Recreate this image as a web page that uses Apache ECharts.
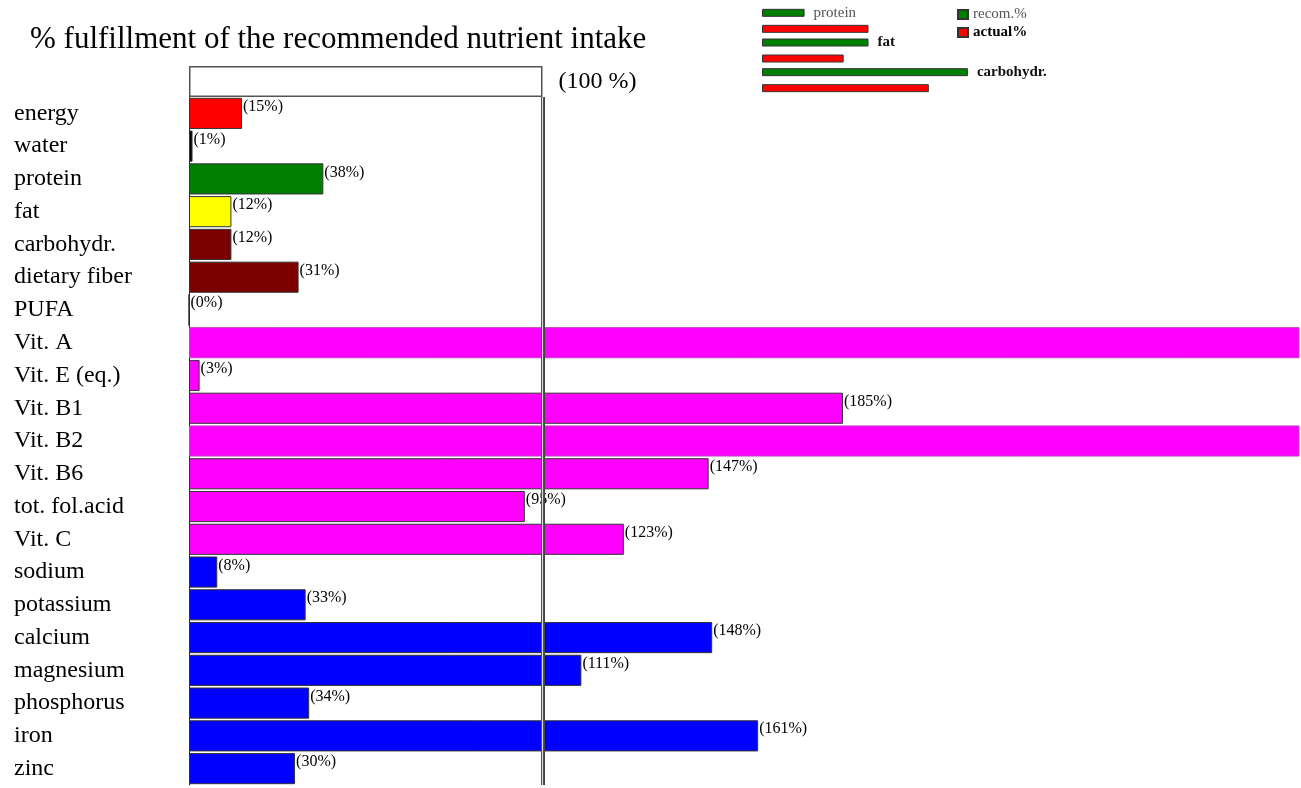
<!DOCTYPE html>
<html>
<head>
<meta charset="utf-8">
<title>% fulfillment of the recommended nutrient intake</title>
<script src="https://cdn.jsdelivr.net/npm/echarts@6/dist/echarts.min.js"></script>
<style>
  html, body { margin: 0; padding: 0; background: #fff; }
  #chart { width: 1301px; height: 788px; }
</style>
</head>
<body>
<div id="chart"></div>
<script>
// nutrients, top to bottom
const nutrients = ['energy', 'water', 'protein', 'fat', 'carbohydr.', 'dietary fiber', 'PUFA',
  'Vit. A', 'Vit. E (eq.)', 'Vit. B1', 'Vit. B2', 'Vit. B6', 'tot. fol.acid', 'Vit. C',
  'sodium', 'potassium', 'calcium', 'magnesium', 'phosphorus', 'iron', 'zinc'];
// % of the recommended intake (Vit. A and Vit. B2 run off the right edge, no label shown)
const fulfillment = [15, 1, 38, 12, 12, 31, 0,
  340, 3, 185, 330, 147, 95, 123,
  8, 33, 148, 111, 34, 161, 30];
// group of each nutrient, picks the bar colour
const nutrientGroup = ['energy', 'water', 'protein', 'fat', 'carb', 'carb', 'pufa',
  'vit', 'vit', 'vit', 'vit', 'vit', 'vit', 'vit',
  'min', 'min', 'min', 'min', 'min', 'min', 'min'];

// small chart top right: energy share of the macronutrients
const macroNames = ['protein', 'fat', 'carbohydr.'];
const recomShare = [12, 30, 58];
const actualShare = [30, 23, 47];

const reference = [100];

const X_MAX = 314;
const SERIF = "'Liberation Serif', 'DejaVu Serif', serif";
const groupColor = {
  energy: '#ff0000', water: '#000000', protein: '#008000', fat: '#ffff00',
  carb: '#7b0000', pufa: '#ffffff', vit: '#ff00ff', min: '#0000ff'
};

const chart = echarts.init(document.getElementById('chart'));

const mainData = fulfillment.map(function (v, i) {
  const item = {
    value: v,
    itemStyle: { color: groupColor[nutrientGroup[i]] }
  };
  if (v > X_MAX) {
    item.label = { show: false };
    item.itemStyle.borderColor = '#c040c0';
  }
  return item;
});

// first label is lighter in the original
const macroData = recomShare.map(function (v, i) {
  return i === 0
    ? { value: v, label: { color: '#555', fontWeight: 'normal' } }
    : { value: v };
});

const option = {
  animation: false,
  title: {
    text: '% fulfillment of the recommended nutrient intake',
    left: 25, top: 19,
    textStyle: { fontFamily: SERIF, fontSize: 31, fontWeight: 'normal', color: '#000' }
  },
  legend: {
    data: [
      { name: 'recom.%', textStyle: { color: '#555' } },
      { name: 'actual%', textStyle: { color: '#000', fontWeight: 'bold' } }
    ],
    orient: 'vertical',
    left: 952, top: 2,
    itemWidth: 10, itemHeight: 9, itemGap: 3,
    icon: 'rect',
    selectedMode: false,
    textStyle: { fontFamily: SERIF, fontSize: 15, color: '#222' }
  },
  grid: [
    { left: 189, right: 2, top: 97, bottom: 3 },
    { left: 189, right: 2, top: 66, height: 31 },
    { left: 762, width: 355, top: 6, height: 89 }
  ],
  xAxis: [
    { gridIndex: 0, type: 'value', min: 0, max: X_MAX, show: false },
    { gridIndex: 1, type: 'value', min: 0, max: X_MAX, show: false },
    { gridIndex: 2, type: 'value', min: 0, max: 100, show: false }
  ],
  yAxis: [
    {
      gridIndex: 0, type: 'category', data: nutrients, inverse: true,
      axisLine: { show: true, lineStyle: { color: '#222', width: 1 } },
      axisTick: { show: false },
      axisLabel: { margin: 175, align: 'left', fontFamily: SERIF, fontSize: 24, color: '#000' }
    },
    { gridIndex: 1, type: 'category', data: ['100 %'], show: false },
    { gridIndex: 2, type: 'category', data: macroNames, inverse: true, show: false }
  ],
  series: [
    {
      type: 'bar',
      xAxisIndex: 0, yAxisIndex: 0,
      data: mainData,
      barCategoryGap: '5%',
      itemStyle: { borderColor: '#333', borderWidth: 1 },
      label: {
        show: true,
        position: ['100%', 0],
        align: 'left', verticalAlign: 'top',
        offset: [1, 1],
        formatter: '({c}%)',
        fontFamily: SERIF, fontSize: 16, color: '#000'
      },
      markLine: {
        silent: true,
        symbol: 'none',
        label: { show: false },
        data: [
          { xAxis: 100, lineStyle: { color: '#444', width: 4, type: 'solid' } },
          { xAxis: 100, lineStyle: { color: '#d8d8d8', width: 1.2, type: 'solid' } }
        ]
      }
    },
    {
      type: 'bar',
      xAxisIndex: 1, yAxisIndex: 1,
      data: reference,
      barWidth: '100%',
      itemStyle: { color: '#fff', borderColor: '#555', borderWidth: 1.5 },
      label: {
        show: true, position: 'right', distance: 16,
        formatter: '({b})',
        fontFamily: SERIF, fontSize: 24, color: '#000'
      }
    },
    {
      name: 'recom.%',
      type: 'bar',
      xAxisIndex: 2, yAxisIndex: 2,
      data: macroData,
      barWidth: 8, barGap: '100%',
      itemStyle: { color: '#008000', borderColor: '#333', borderWidth: 1 },
      label: {
        show: true, position: 'right', distance: 9,
        formatter: '{b}',
        fontFamily: SERIF, fontSize: 15, fontWeight: 'bold', color: '#111'
      }
    },
    {
      name: 'actual%',
      type: 'bar',
      xAxisIndex: 2, yAxisIndex: 2,
      data: actualShare,
      barWidth: 8, barGap: '100%',
      itemStyle: { color: '#ff0000', borderColor: '#333', borderWidth: 1 }
    }
  ]
};

chart.setOption(option);
</script>
</body>
</html>
